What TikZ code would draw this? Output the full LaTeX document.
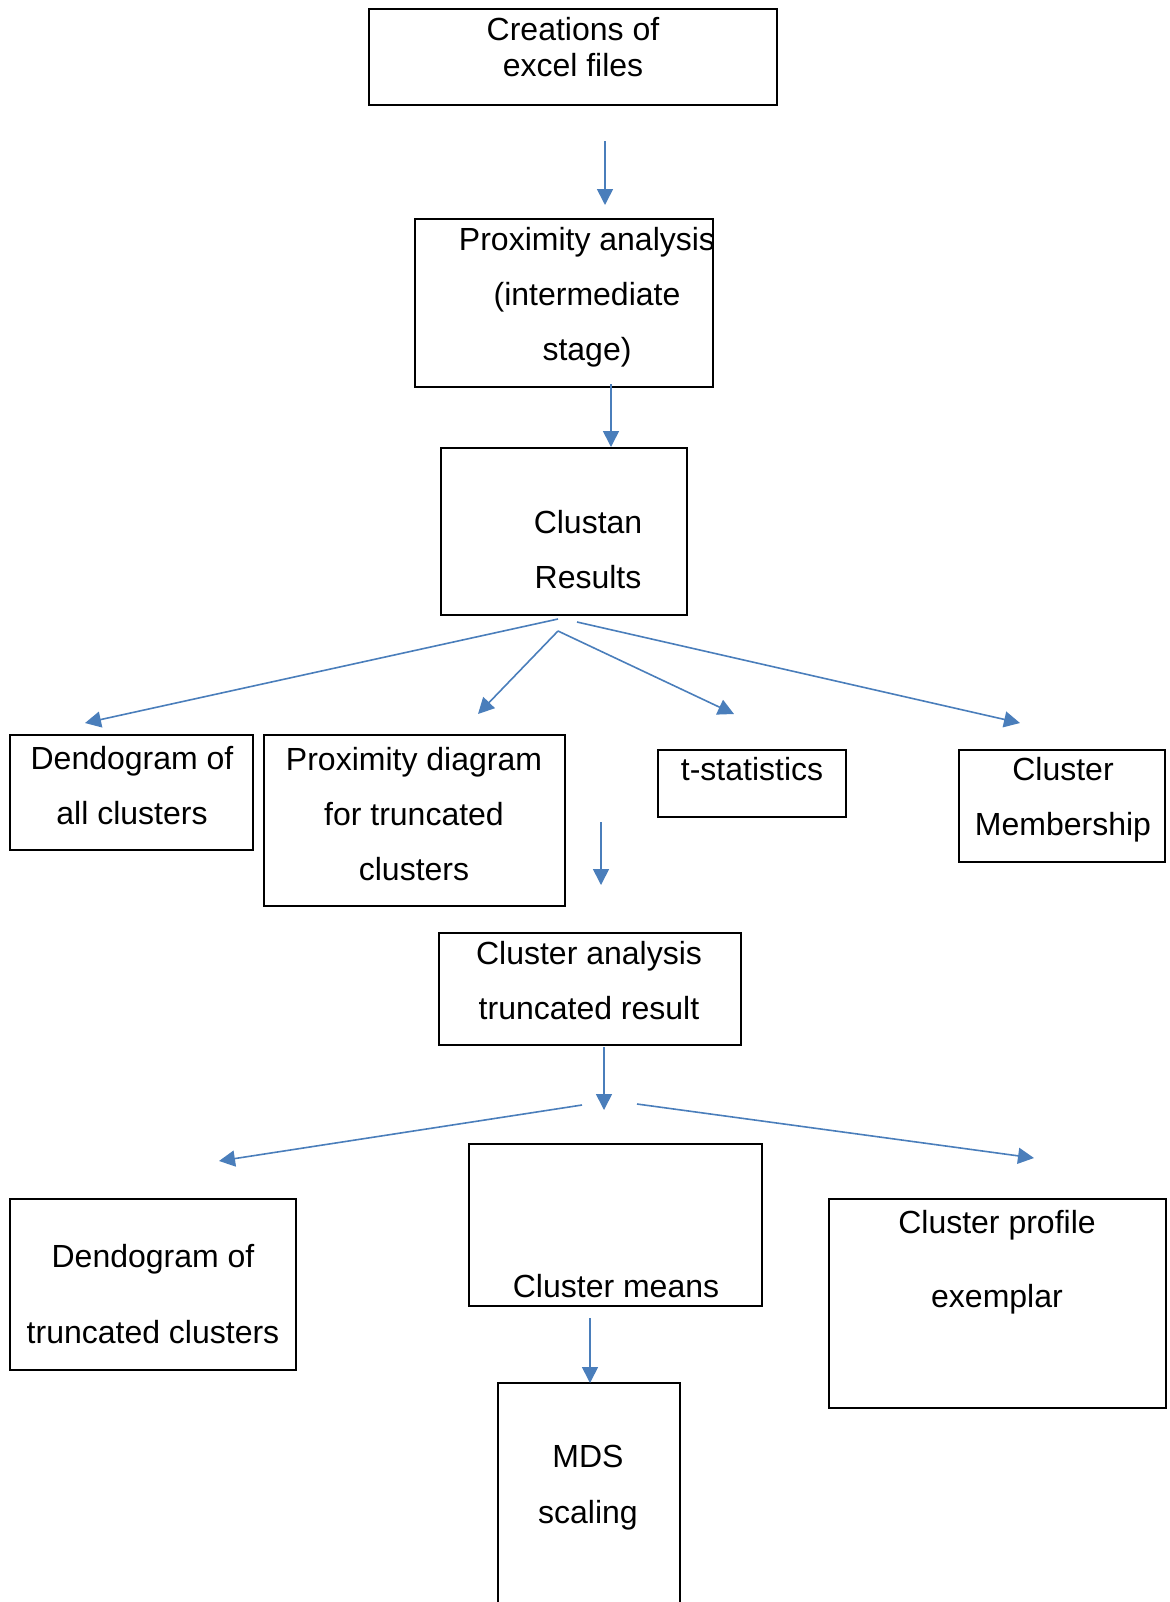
\documentclass[tikz,border=0pt]{standalone}
\usepackage{fontspec}
\setmainfont{Liberation Sans}
\usetikzlibrary{arrows.meta}
\definecolor{flowblue}{RGB}{74,126,187}

\begin{document}
\begin{tikzpicture}[x=0.5pt, y=-0.5pt,
  thinbox/.style = {draw, rectangle, line width=0.6pt, inner sep=0pt},
  thickbox/.style = {draw, rectangle, line width=1.4pt, inner sep=0pt},
  txt/.style = {align=center, inner sep=0pt, font=\fontsize{16}{27.5}\selectfont},
  flow/.style = {draw=flowblue, line width=0.8pt, -{Triangle[length=8pt,width=8pt]}}]
\useasboundingbox (0,0) rectangle (1170,1602);

% boxes
\node[thinbox, minimum width=204pt, minimum height=48pt] (excel) at (573,57) {};
\node[thinbox, minimum width=149pt, minimum height=84pt] (proxan) at (564,303) {};
\node[thinbox, minimum width=123pt, minimum height=83.5pt] (clustan) at (564,531.5) {};
\node[thickbox, minimum width=121.5pt, minimum height=57.5pt] (dendoall) at (131.5,792.5) {};
\node[thickbox, minimum width=150.5pt, minimum height=85.5pt] (proxdiag) at (414.5,820.5) {};
\node[thickbox, minimum width=94pt, minimum height=33.5pt] (tstat) at (752,783.5) {};
\node[thickbox, minimum width=103pt, minimum height=56pt] (member) at (1062,806) {};
\node[thickbox, minimum width=151pt, minimum height=56pt] (truncres) at (590,989) {};
\node[thickbox, minimum width=143pt, minimum height=85.5pt] (dendotrunc) at (153,1284.5) {};
\node[thickbox, minimum width=146.5pt, minimum height=81pt] (means) at (615.5,1225) {};
\node[thickbox, minimum width=168.5pt, minimum height=104.5pt] (profile) at (997.5,1303.5) {};
\node[thinbox, minimum width=91pt, minimum height=118.5pt] (mds) at (589,1501.5) {};

% texts
\node[txt, font=\fontsize{16}{18}\selectfont] (excel-txt) at (573,47) {Creations of\\excel files};
\node[txt] (proxan-txt) at (587,297) {Proximity analysis\\(intermediate\\stage)};
\node[txt] (clustan-txt) at (588,550) {Clustan\\Results};
\node[txt] (dendoall-txt) at (132,786) {Dendogram of\\all clusters};
\node[txt] (proxdiag-txt) at (414,814) {Proximity diagram\\for truncated\\clusters};
\node[txt] (tstat-txt) at (752,769) {t-statistics};
\node[txt] (member-txt) at (1063,800) {Cluster\\Membership};
\node[txt] (truncres-txt) at (589,981) {Cluster analysis\\truncated result};
\node[txt, font=\fontsize{16}{38}\selectfont] (dendotrunc-txt) at (153,1294) {Dendogram of\\truncated clusters};
\node[txt] (means-txt) at (616,1286) {Cluster means};
\node[txt, font=\fontsize{16}{37}\selectfont] (profile-txt) at (997,1262) {Cluster profile\\exemplar};
\node[txt, font=\fontsize{16}{28}\selectfont] (mds-txt) at (588,1488) {MDS\\scaling};

% arrow ends
\coordinate (a1s) at (605,141);  \coordinate (a1e) at (605,205);
\coordinate (a2s) at (611,384);  \coordinate (a2e) at (611,447);
\coordinate (lefts) at (558,619);  \coordinate (lefte) at (85,723);
\coordinate (fork) at (558,631);
\coordinate (proxe) at (478,714);  \coordinate (tstate) at (734,714);
\coordinate (rights) at (577,622); \coordinate (righte) at (1020,723);
\coordinate (a3s) at (601,822);  \coordinate (a3e) at (601,885);
\coordinate (a4s) at (604,1047); \coordinate (a4e) at (604,1110);
\coordinate (bls) at (582,1105); \coordinate (ble) at (219,1161);
\coordinate (brs) at (637,1104); \coordinate (bre) at (1034,1158);
\coordinate (a5s) at (590,1318); \coordinate (a5e) at (590,1383);

% arrows
\draw[flow] (a1s) -- (a1e);
\draw[flow] (a2s) -- (a2e);
\draw[flow] (lefts) -- (lefte);
\draw[flow] (fork) -- (proxe);
\draw[flow] (fork) -- (tstate);
\draw[flow] (rights) -- (righte);
\draw[flow] (a3s) -- (a3e);
\draw[flow] (a4s) -- (a4e);
\draw[flow] (bls) -- (ble);
\draw[flow] (brs) -- (bre);
\draw[flow] (a5s) -- (a5e);

\end{tikzpicture}
\end{document}
